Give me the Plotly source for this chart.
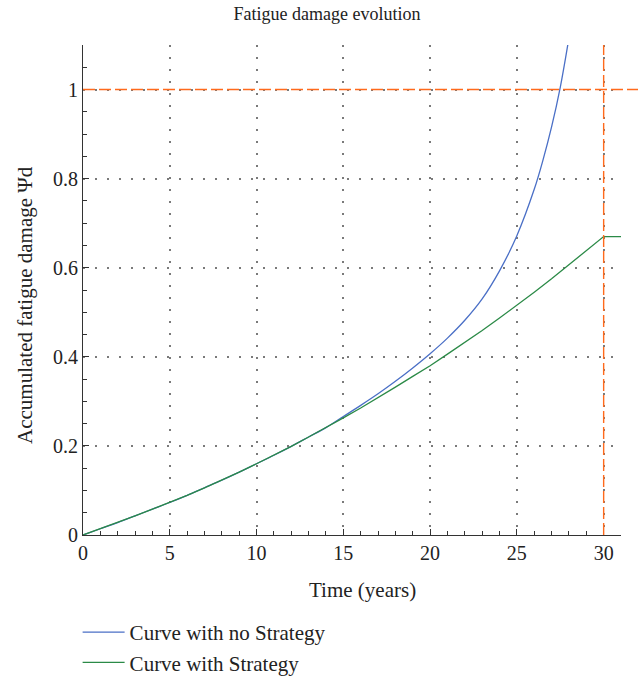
import plotly.graph_objects as go

# Accumulated fatigue damage over service life (years)
years_no_strategy = [0, 1, 2, 3, 4, 5, 6, 7, 8, 9, 10, 11, 12, 13, 14, 15, 16, 17, 18,
                     19, 20, 21, 22, 23, 24, 25, 26, 26.5, 27, 27.5, 28]
damage_no_strategy = [0, 0.014, 0.028, 0.043, 0.058, 0.073, 0.089, 0.106, 0.123, 0.141,
                      0.160, 0.179, 0.199, 0.220, 0.241, 0.266, 0.291, 0.317, 0.345,
                      0.375, 0.407, 0.442, 0.482, 0.530, 0.593, 0.672, 0.776, 0.841,
                      0.916, 1.005, 1.116]

years_strategy = [0, 1, 2, 3, 4, 5, 6, 7, 8, 9, 10, 11, 12, 13, 14, 15, 16, 17, 18, 19,
                  20, 21, 22, 23, 24, 25, 26, 27, 28, 29, 30, 31]
damage_strategy = [0, 0.014, 0.028, 0.043, 0.058, 0.073, 0.089, 0.106, 0.123, 0.141,
                   0.160, 0.179, 0.199, 0.220, 0.241, 0.263, 0.285, 0.308, 0.332, 0.356,
                   0.380, 0.406, 0.432, 0.459, 0.487, 0.515, 0.545, 0.575, 0.606, 0.638,
                   0.670, 0.670]

damage_limit = 1.0
design_life = 30

x_ticks = [0, 5, 10, 15, 20, 25, 30]
y_ticks = [0, 0.2, 0.4, 0.6, 0.8, 1.0]
y_tick_text = ["0", "0.2", "0.4", "0.6", "0.8", "1"]

W, H = 643, 678
L, R, T, B = 83, 22, 45, 143

FONT = "Liberation Serif"
TEXT = "#222222"
AXIS = "#333333"
BLUE = "#4a6fc6"
GREEN = "#2b8a47"
ORANGE = "#ff6a1c"

fig = go.Figure()
fig.add_trace(go.Scatter(
    x=years_no_strategy, y=damage_no_strategy, mode="lines",
    name="Curve with no Strategy", legendgroup="a",
    line=dict(color=BLUE, width=1.3, shape="spline", smoothing=1.0),
))
fig.add_trace(go.Scatter(
    x=years_strategy, y=damage_strategy, mode="lines",
    name="Curve with Strategy", legendgroup="b",
    line=dict(color=GREEN, width=1.3),
))

# Failure threshold and design life reference lines
fig.add_shape(type="line", xref="paper", yref="y", x0=0, x1=(638 - L) / (W - L - R),
              y0=damage_limit, y1=damage_limit,
              line=dict(color=ORANGE, width=1.4, dash="12px,4px"))
fig.add_shape(type="line", xref="x", yref="paper", x0=design_life, x1=design_life,
              y0=0, y1=1, line=dict(color=ORANGE, width=1.4, dash="12px,4px"))

axis_common = dict(
    showline=True, linecolor=AXIS, linewidth=1,
    ticks="inside", ticklen=6, tickcolor=AXIS, tickwidth=1,
    showgrid=True, gridcolor="#7a7a7a", gridwidth=1.5, griddash="1.5px,10.5px",
    zeroline=False, mirror=False,
    tickfont=dict(family=FONT, size=20, color=TEXT),
)

fig.update_xaxes(
    range=[0, 31], tickmode="array", tickvals=x_ticks,
    minor=dict(ticks="inside", ticklen=4, dtick=1, tickcolor=AXIS, showgrid=False),
    **axis_common,
)
fig.update_yaxes(
    range=[0, 1.1], tickmode="array", tickvals=y_ticks, ticktext=y_tick_text,
    minor=dict(ticks="inside", ticklen=4, dtick=0.05, tickcolor=AXIS, showgrid=False),
    **axis_common,
)

# Axis titles
fig.add_annotation(text="Time (years)", xref="paper", yref="paper",
                   x=(362 - L) / (W - L - R), y=-(590 - (H - B)) / (H - T - B),
                   xanchor="center", yanchor="middle", showarrow=False,
                   font=dict(family=FONT, size=21, color=TEXT))
fig.add_annotation(text="Accumulated fatigue damage Ψd", xref="paper", yref="paper",
                   x=-(L - 25) / (W - L - R), y=((H - B) - 305) / (H - T - B),
                   xanchor="center", yanchor="middle", textangle=-90, showarrow=False,
                   font=dict(family=FONT, size=21, color=TEXT))

fig.update_layout(
    width=W, height=H,
    margin=dict(l=L, r=R, t=T, b=B, autoexpand=False),
    paper_bgcolor="white", plot_bgcolor="white",
    title=dict(text="Fatigue damage evolution", x=327 / W, xref="container", xanchor="center",
               y=1 - 14 / H, yref="container", yanchor="middle",
               font=dict(family=FONT, size=18, color=TEXT)),
    font=dict(family=FONT, size=20, color=TEXT),
    legend=dict(x=-0.01, xanchor="left", y=-0.157, yanchor="top",
                orientation="v", tracegroupgap=0, itemwidth=42,
                font=dict(family=FONT, size=21, color=TEXT),
                bgcolor="rgba(0,0,0,0)"),
    showlegend=True,
)

fig.write_html("out.html")
